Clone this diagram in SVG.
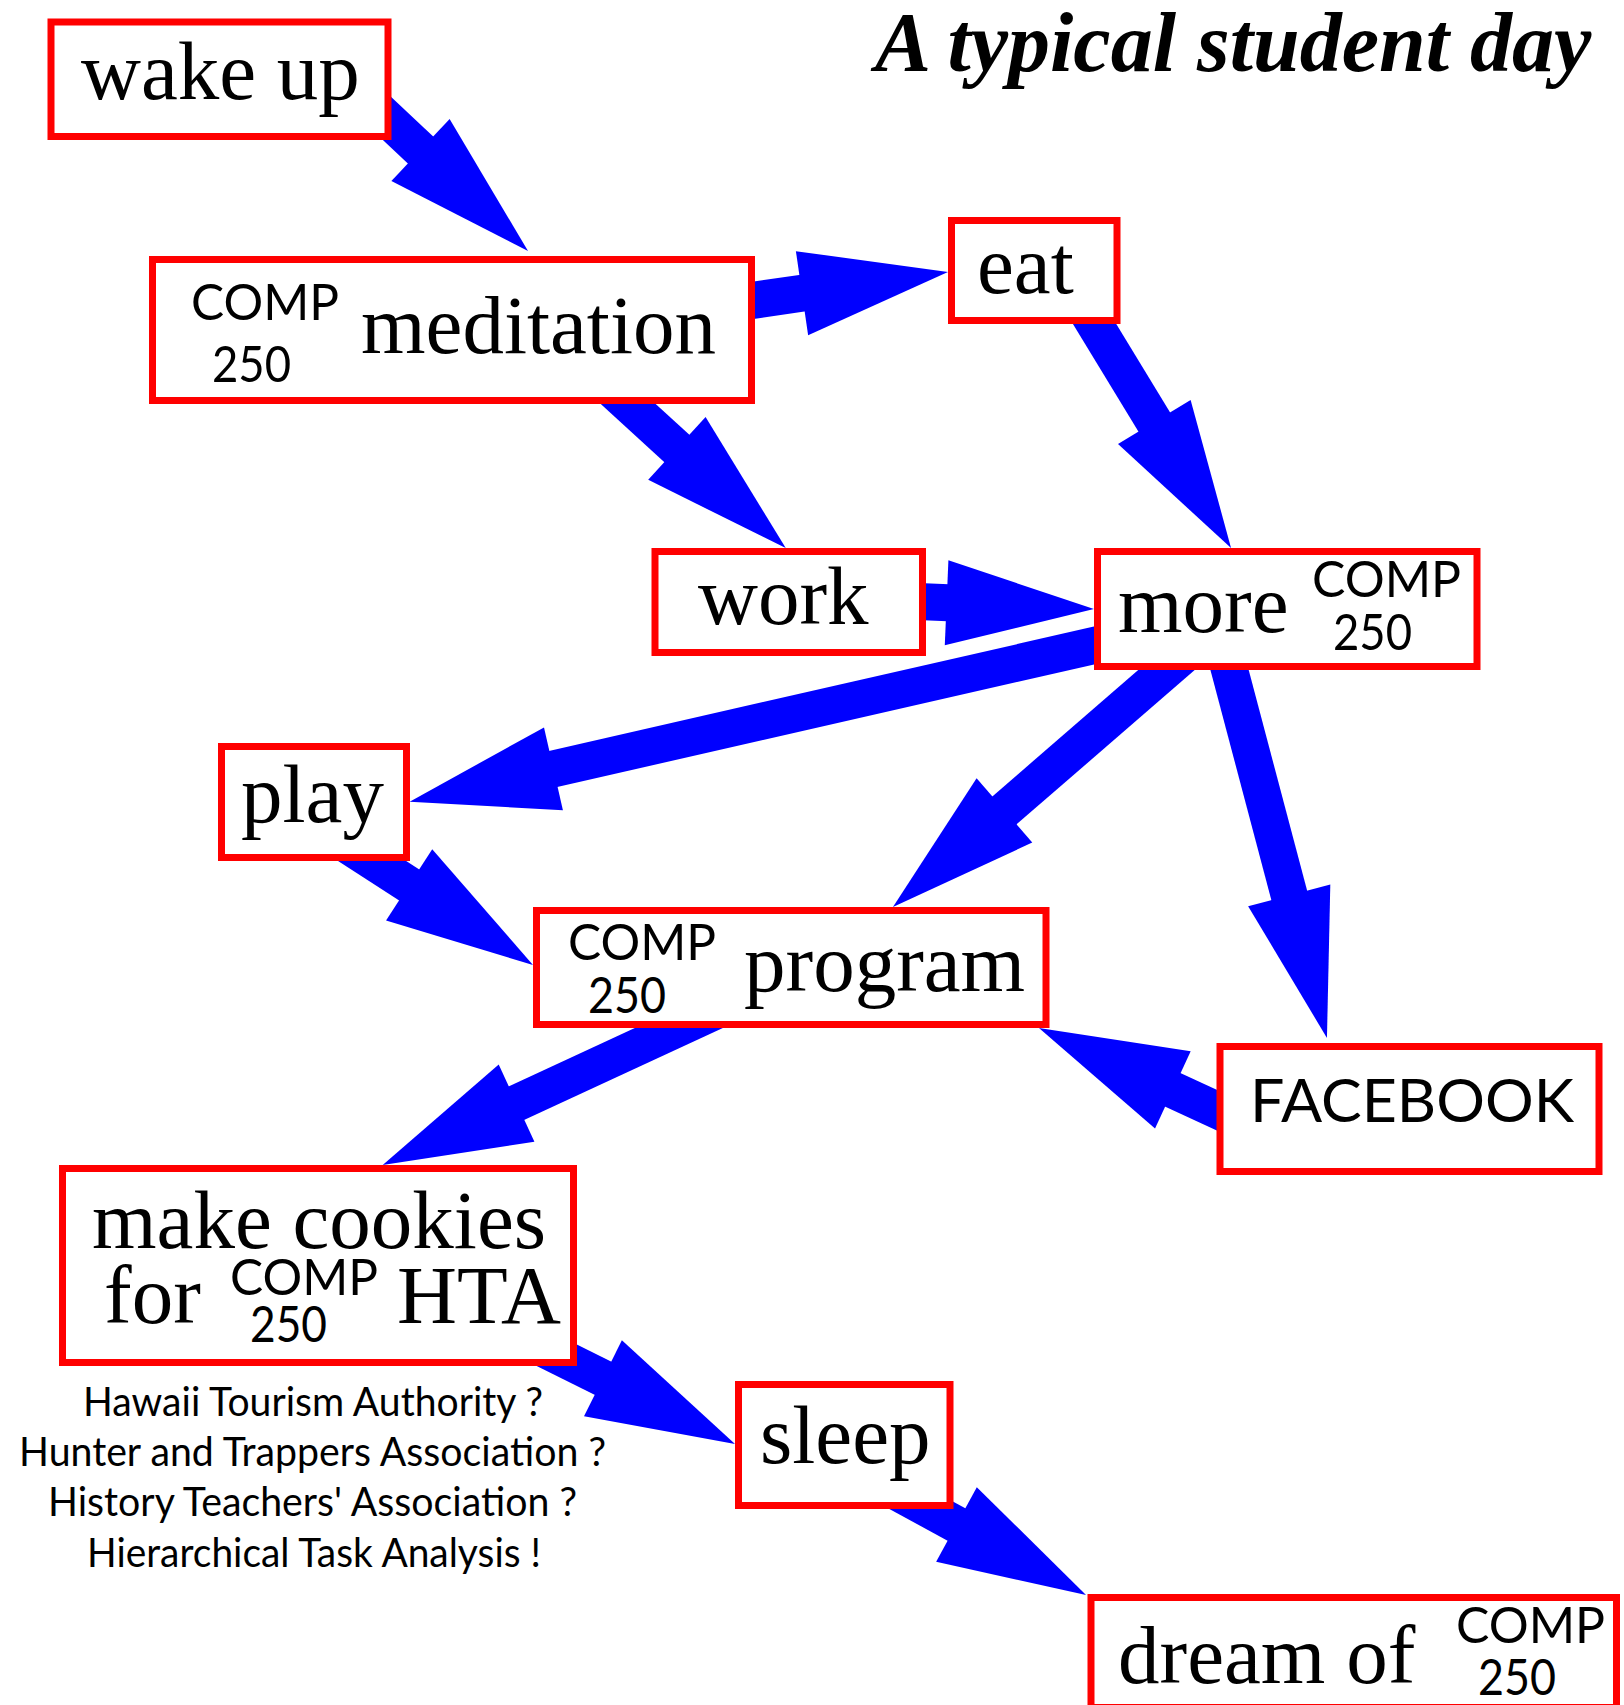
<svg xmlns="http://www.w3.org/2000/svg" width="1624" height="1705" viewBox="0 0 1624 1705">
  <style>
    .box { fill: #ffffff; stroke: #ff0000; stroke-width: 7; }
    .serif { font-family: "Liberation Serif", "Times New Roman", serif; font-size: 83px; fill: #000000; }
    .sans { font-family: Lato, "Liberation Sans", sans-serif; fill: #000000; }
    .course { font-size: 51px; }
    .note { font-size: 40px; }
    .edge { stroke: #0000ff; stroke-width: 37; fill: none; marker-end: url(#head); }
    .title { font-family: "Liberation Serif", "Times New Roman", serif; font-size: 84px; font-weight: bold; font-style: italic; fill: #000000; }
  </style>
  <defs>
    <!-- fixed-size arrowhead, base sits on the end of the shaft -->
    <marker id="head" markerUnits="userSpaceOnUse" markerWidth="150" markerHeight="90" viewBox="-2 -45 150 90" refX="0" refY="0" orient="auto" overflow="visible">
      <path d="M-1.5,-42.5 L146,0 L-1.5,42.5 Z" fill="#0000ff"/>
    </marker>
  </defs>

  <rect width="1624" height="1705" fill="#ffffff"/>

  <text class="title" x="875" y="71">A typical student day</text>

  <!-- shafts start well inside their source box; the box fill hides the hidden part -->
  <g id="connectors">
    <line class="edge" x1="312.3" y1="48.3" x2="421.6" y2="151"/>
    <line class="edge" x1="655" y1="314.6" x2="803.5" y2="293"/>
    <line class="edge" x1="582.1" y1="361.8" x2="678" y2="449.5"/>
    <line class="edge" x1="1061.5" y1="269.6" x2="1155.1" y2="423.3"/>
    <line class="edge" x1="828.2" y1="597.7" x2="948.1" y2="602.8"/>
    <line class="edge" x1="1185.7" y1="624.6" x2="552" y2="769.2"/>
    <line class="edge" x1="1214.9" y1="628.1" x2="1003.3" y2="811.4"/>
    <line class="edge" x1="1215.4" y1="616.4" x2="1289.6" y2="896.8"/>
    <line class="edge" x1="301.3" y1="815.1" x2="410.4" y2="885.7"/>
    <line class="edge" x1="1298.6" y1="1147.9" x2="1171.5" y2="1089.2"/>
    <line class="edge" x1="751.2" y1="994.5" x2="515.2" y2="1103.7"/>
    <line class="edge" x1="487.9" y1="1321" x2="604.3" y2="1378.9"/>
    <line class="edge" x1="843.6" y1="1463" x2="957.8" y2="1525.2"/>
  </g>

  <g id="wake-up">
    <rect class="box" x="51" y="22" width="337" height="114.5"/>
    <text class="serif" x="81" y="99">wake up</text>
  </g>

  <g id="meditation">
    <rect class="box" x="152.5" y="259.5" width="599" height="141"/>
    <text class="sans course" x="191" y="320" textLength="148" lengthAdjust="spacingAndGlyphs">COMP</text>
    <text class="sans course" x="212" y="382" textLength="79" lengthAdjust="spacingAndGlyphs">250</text>
    <text class="serif" x="361" y="353">meditation</text>
  </g>

  <g id="eat">
    <rect class="box" x="951.5" y="220.5" width="165.5" height="100"/>
    <text class="serif" x="977" y="293">eat</text>
  </g>

  <g id="work">
    <rect class="box" x="655" y="551.5" width="267.5" height="101"/>
    <text class="serif" x="698" y="624">work</text>
  </g>

  <g id="more">
    <rect class="box" x="1097.5" y="551.5" width="379.5" height="115"/>
    <text class="serif" x="1118" y="632">more</text>
    <text class="sans course" x="1312" y="597" textLength="149" lengthAdjust="spacingAndGlyphs">COMP</text>
    <text class="sans course" x="1333" y="650" textLength="79" lengthAdjust="spacingAndGlyphs">250</text>
  </g>

  <g id="play">
    <rect class="box" x="221.5" y="746.5" width="185" height="111"/>
    <text class="serif" x="241" y="822">play</text>
  </g>

  <g id="program">
    <rect class="box" x="536.5" y="910.5" width="509.5" height="114"/>
    <text class="sans course" x="568" y="960" textLength="148" lengthAdjust="spacingAndGlyphs">COMP</text>
    <text class="sans course" x="588" y="1013" textLength="78" lengthAdjust="spacingAndGlyphs">250</text>
    <text class="serif" x="744" y="991">program</text>
  </g>

  <g id="facebook">
    <rect class="box" x="1220" y="1046.5" width="379" height="125"/>
    <text class="sans" x="1250" y="1122" font-size="60" textLength="324" lengthAdjust="spacingAndGlyphs">FACEBOOK</text>
  </g>

  <g id="make-cookies">
    <rect class="box" x="62.5" y="1168.5" width="511" height="194"/>
    <text class="serif" x="92" y="1248">make cookies</text>
    <text class="serif" x="104" y="1323">for</text>
    <text class="sans course" x="230" y="1295" textLength="148" lengthAdjust="spacingAndGlyphs">COMP</text>
    <text class="sans course" x="250" y="1342" textLength="77" lengthAdjust="spacingAndGlyphs">250</text>
    <text class="serif" x="397" y="1323">HTA</text>
  </g>

  <g id="hta-notes">
    <text class="sans note" x="83" y="1416" textLength="460" lengthAdjust="spacingAndGlyphs">Hawaii Tourism Authority ?</text>
    <text class="sans note" x="19" y="1466" textLength="587" lengthAdjust="spacingAndGlyphs">Hunter and Trappers Association ?</text>
    <text class="sans note" x="48" y="1516" textLength="529" lengthAdjust="spacingAndGlyphs">History Teachers' Association ?</text>
    <text class="sans note" x="87" y="1567" textLength="454" lengthAdjust="spacingAndGlyphs">Hierarchical Task Analysis !</text>
  </g>

  <g id="sleep">
    <rect class="box" x="738.5" y="1384.5" width="211.5" height="121"/>
    <text class="serif" x="760" y="1463">sleep</text>
  </g>

  <g id="dream">
    <rect class="box" x="1091" y="1597.5" width="525.5" height="110"/>
    <text class="serif" x="1118" y="1683">dream of</text>
    <text class="sans course" x="1456" y="1643" textLength="149" lengthAdjust="spacingAndGlyphs">COMP</text>
    <text class="sans course" x="1478" y="1695" textLength="78" lengthAdjust="spacingAndGlyphs">250</text>
  </g>
</svg>
